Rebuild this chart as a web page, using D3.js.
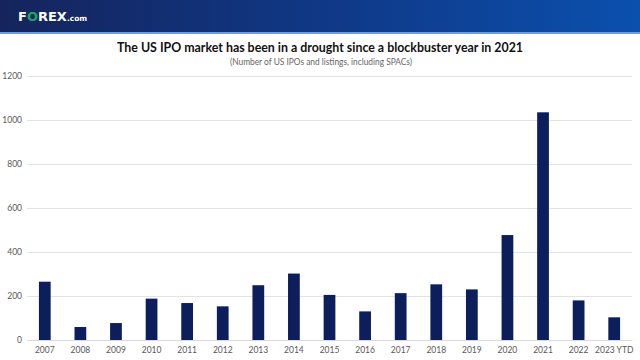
<!DOCTYPE html>
<html>
<head>
<meta charset="utf-8">
<script src="https://cdn.jsdelivr.net/npm/d3@7"></script>
<style>
html,body{margin:0;padding:0;background:#fff;}
svg{display:block;}
</style>
</head>
<body>
<script>
const categories = ["2007","2008","2009","2010","2011","2012","2013","2014","2015","2016","2017","2018","2019","2020","2021","2022","2023 YTD"];
const ipoCounts = [265,59,77,188,168,153,249,302,205,130,213,253,230,477,1035,180,103];
const yTicks = [0,200,400,600,800,1000,1200];
const titleText = "The US IPO market has been in a drought since a blockbuster year in 2021";
const subtitleText = "(Number of US IPOs and listings, including SPACs)";

const W = 640, H = 360;
const FONT = "Lato, Carlito, Calibri, sans-serif";
const svg = d3.select("body").append("svg").attr("width", W).attr("height", H);

// header band
const defs = svg.append("defs");
const grad = defs.append("linearGradient").attr("id","hdr").attr("x1","0").attr("x2","1").attr("y1","0").attr("y2","0");
grad.append("stop").attr("offset","0%").attr("stop-color","#15245c");
grad.append("stop").attr("offset","55%").attr("stop-color","#0f3a8a");
grad.append("stop").attr("offset","100%").attr("stop-color","#0b50ae");
svg.append("rect").attr("x",0).attr("y",0).attr("width",W).attr("height",32).attr("fill","url(#hdr)");
svg.append("rect").attr("x",0).attr("y",32).attr("width",W).attr("height",2).attr("fill","#6f9be0");

// logo
const logo = svg.append("text").attr("x",18).attr("y",21)
  .attr("font-family","Arial Black, DejaVu Sans, sans-serif").attr("font-weight","900")
  .attr("font-size",13).attr("fill","#ffffff");
logo.append("tspan").text("F");
logo.append("tspan").attr("fill","#1aa860").text("O");
logo.append("tspan").text("REX");
logo.append("tspan").attr("font-size",7.5).attr("dy",-0.5).text(".com");

// titles
svg.append("text").attr("x",320).attr("y",52).attr("text-anchor","middle")
  .attr("font-family",FONT).attr("font-weight","bold")
  .attr("font-size",13.5).attr("fill","#111")
  .attr("textLength",406).attr("lengthAdjust","spacingAndGlyphs").text(titleText);
svg.append("text").attr("x",321).attr("y",65).attr("text-anchor","middle")
  .attr("font-family",FONT)
  .attr("font-size",8.5).attr("fill","#666")
  .attr("textLength",182).attr("lengthAdjust","spacingAndGlyphs").text(subtitleText);

// scales
const x = d3.scaleBand().domain(categories).range([27,632]).paddingInner(0.67).paddingOuter(0.335);
const y = d3.scaleLinear().domain([0,1200]).range([340,76]);

// gridlines
const grid = svg.append("g").attr("transform","translate(27,0)")
  .call(d3.axisLeft(y).tickValues(yTicks).tickSize(-605).tickFormat(""));
grid.select(".domain").remove();
grid.selectAll(".tick line").attr("stroke","#e3e3e3").attr("stroke-width",1);

// y axis labels
const yAx = svg.append("g").attr("transform","translate(22,0)")
  .call(d3.axisLeft(y).tickValues(yTicks).tickSize(0).tickPadding(0).tickFormat(d3.format("d")));
yAx.select(".domain").remove();
yAx.selectAll("text").attr("font-family",FONT).attr("font-size",8.5).attr("fill","#595959");

// bars
svg.append("g").selectAll("rect").data(categories).join("rect")
  .attr("x", d => x(d))
  .attr("width", x.bandwidth())
  .attr("y", (d,i) => y(ipoCounts[i]))
  .attr("height", (d,i) => y(0) - y(ipoCounts[i]))
  .attr("fill","#0c1e5b");

// x axis
const xAx = svg.append("g").attr("transform","translate(0,340)")
  .call(d3.axisBottom(x).tickSize(0).tickPadding(7));
xAx.select(".domain").attr("stroke","#d9d9d9");
xAx.selectAll("text").attr("font-family",FONT).attr("font-size",8.5).attr("fill","#595959");
</script>
</body>
</html>
